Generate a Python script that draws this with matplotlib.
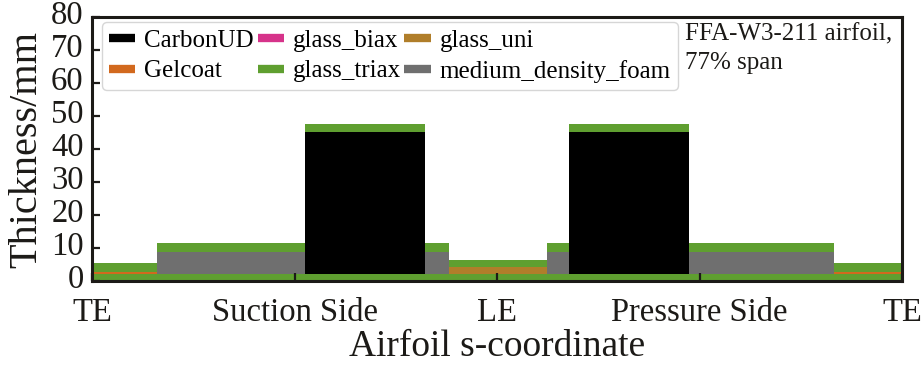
import matplotlib
matplotlib.use("Agg")
import matplotlib.pyplot as plt
from matplotlib.lines import Line2D
from matplotlib.transforms import ScaledTranslation

plt.rcParams['font.family'] = ['Liberation Serif', 'DejaVu Serif']

# Region boundaries along the airfoil s-coordinate (0 = TE suction, 0.5 = LE, 1 = TE pressure)
edges = [0.0, 0.0806, 0.263, 0.411, 0.441, 0.562, 0.589, 0.737, 0.916, 1.0]

# Layer thicknesses (mm) per region, stacked bottom -> top
triax_base = [2.2, 2.2, 2.2, 2.2, 2.2, 2.2, 2.2, 2.2, 2.2]
gelcoat    = [0.5, 0.0, 0.0, 0.0, 0.0, 0.0, 0.0, 0.0, 0.5]
glass_biax = [0.0, 0.0, 0.0, 0.0, 0.0, 0.0, 0.0, 0.0, 0.0]
glass_uni  = [0.0, 0.0, 0.0, 0.0, 2.0, 0.0, 0.0, 0.0, 0.0]
carbon_ud  = [0.0, 0.0, 43.0, 0.0, 0.0, 0.0, 43.0, 0.0, 0.0]
foam       = [0.0, 6.7, 0.0, 6.7, 0.0, 6.7, 0.0, 6.7, 0.0]
triax_top  = [2.7, 2.5, 2.3, 2.5, 2.2, 2.5, 2.3, 2.5, 2.7]

tick_pos = [0.0, 0.25, 0.5, 0.75, 1.0]
tick_labels = ['TE', 'Suction Side', 'LE', 'Pressure Side', 'TE']

colors = {
    'CarbonUD': '#000000',
    'Gelcoat': '#d2691e',
    'glass_biax': '#d6338a',
    'glass_triax': '#5f9f30',
    'glass_uni': '#b07e2a',
    'medium_density_foam': '#6f6f6f',
}

layers = [
    ('glass_triax', triax_base),
    ('Gelcoat', gelcoat),
    ('glass_biax', glass_biax),
    ('glass_uni', glass_uni),
    ('CarbonUD', carbon_ud),
    ('medium_density_foam', foam),
    ('glass_triax', triax_top),
]

W, H = 924, 366
fig = plt.figure(figsize=(W / 100, H / 100), dpi=100)
ax = fig.add_axes([92 / W, 1 - 281 / H, (902 - 92) / W, (281 - 17) / H])

lefts = edges[:-1]
widths = [edges[i + 1] - edges[i] for i in range(len(edges) - 1)]
bottom = [0.0] * len(lefts)
for name, vals in layers:
    ax.bar(lefts, vals, width=widths, bottom=bottom, align='edge',
           color=colors[name], edgecolor='none', linewidth=0)
    bottom = [b + v for b, v in zip(bottom, vals)]

ax.set_xlim(0, 1)
ax.set_ylim(0, 80)
ax.set_yticks(range(0, 81, 10))
ax.set_xticks(tick_pos)
ax.set_xticklabels(tick_labels)

ax.tick_params(axis='both', direction='in', length=6, width=1.6, labelsize=23.5,
               color='#1c1a17', labelcolor='#1c1a17')
ax.tick_params(axis='x', pad=12)
ax.tick_params(axis='y', pad=6)
for s in ax.spines.values():
    s.set_linewidth(2.2)
    s.set_color('#1c1a17')

# y tick labels sit slightly above their ticks in the reference
offset = ScaledTranslation(0, 5 / 100, fig.dpi_scale_trans)
for lab in ax.get_yticklabels():
    lab.set_transform(lab.get_transform() + offset)

ax.set_xlabel('Airfoil s-coordinate', fontsize=27, color='#1c1a17', labelpad=1)
ax.set_ylabel('Thickness/mm', fontsize=29, color='#1c1a17', labelpad=4)

order = ['CarbonUD', 'Gelcoat', 'glass_biax', 'glass_triax', 'glass_uni', 'medium_density_foam']
handles = [Line2D([0], [0], color=colors[n], lw=6, solid_capstyle='butt') for n in order]
leg = ax.legend(handles, order, ncol=3, loc='upper left', bbox_to_anchor=(0.012, 0.982),
                borderaxespad=0, fontsize=18, handlelength=1.05, handletextpad=0.35,
                columnspacing=0.15, labelspacing=0.32, borderpad=0.3, frameon=True,
                fancybox=True, framealpha=0.8, edgecolor='#cccccc')

ax.text(0.732, 0.975, 'FFA-W3-211 airfoil,\n77% span', transform=ax.transAxes,
        ha='left', va='top', fontsize=18, linespacing=1.4, color='#1c1a17')

fig.savefig('out.png', dpi=100)
